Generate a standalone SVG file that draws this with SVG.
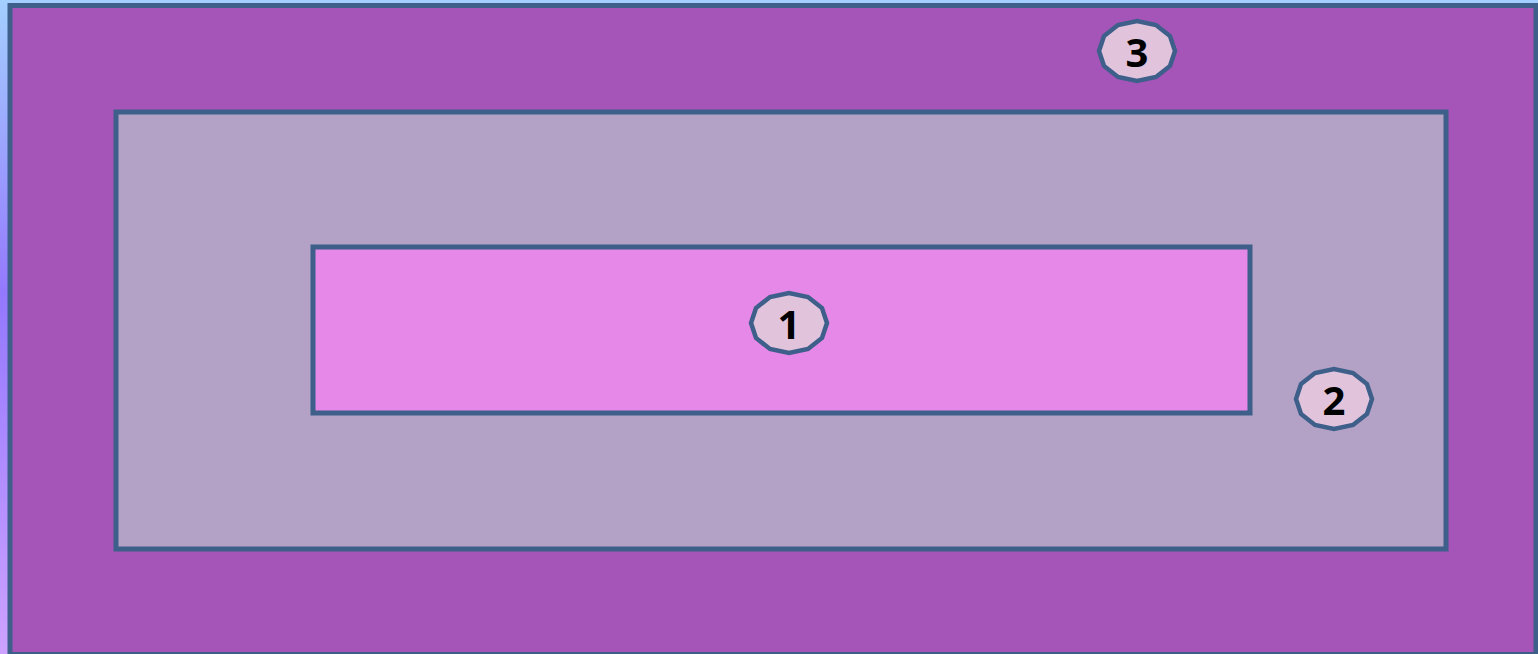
<svg xmlns="http://www.w3.org/2000/svg" width="1538" height="654" viewBox="0 0 1538 654">
<defs>
<linearGradient id="bg" x1="0" y1="0" x2="0" y2="1">
<stop offset="0" stop-color="#a3cfff"/>
<stop offset="0.45" stop-color="#9478ff"/>
<stop offset="1" stop-color="#cda2ff"/>
</linearGradient>
</defs>
<style>
.box{stroke:#3d5f8a;stroke-width:5}
.badge{fill:#e1c4dc;stroke:#3d5f8a;stroke-width:4.5}
.lbl{font-family:"Open Sans","Liberation Sans",sans-serif;font-weight:bold;font-size:40px;fill:#000;text-anchor:middle}
</style>
<rect x="0" y="0" width="1538" height="654" fill="url(#bg)"/>
<g id="zone3">
<rect class="box" x="10" y="5.5" width="1526" height="649" fill="#a555b8"/>
</g>
<g id="zone2">
<rect class="box" x="116" y="112" width="1330" height="437" fill="#b3a2c5"/>
</g>
<g id="zone1">
<rect class="box" x="313" y="247" width="937" height="166" fill="#e688e8"/>
</g>
<g id="connectors"/>
<g id="badge3">
<polygon class="badge" points="1175,51 1170,66 1156,77 1137,81 1118,77 1104,66 1099,51 1104,36 1118,25 1137,21 1156,25 1170,36"/>
<text class="lbl" x="1137" y="67">3</text>
</g>
<g id="badge1">
<polygon class="badge" points="827,323 822,338 808,349 789,353 770,349 756,338 751,323 756,308 770,297 789,293 808,297 822,308"/>
<text class="lbl" x="789" y="339">1</text>
</g>
<g id="badge2">
<polygon class="badge" points="1372,399 1367,414 1353,425 1334,429 1315,425 1301,414 1296,399 1301,384 1315,373 1334,369 1353,373 1367,384"/>
<text class="lbl" x="1334" y="415">2</text>
</g>
</svg>
